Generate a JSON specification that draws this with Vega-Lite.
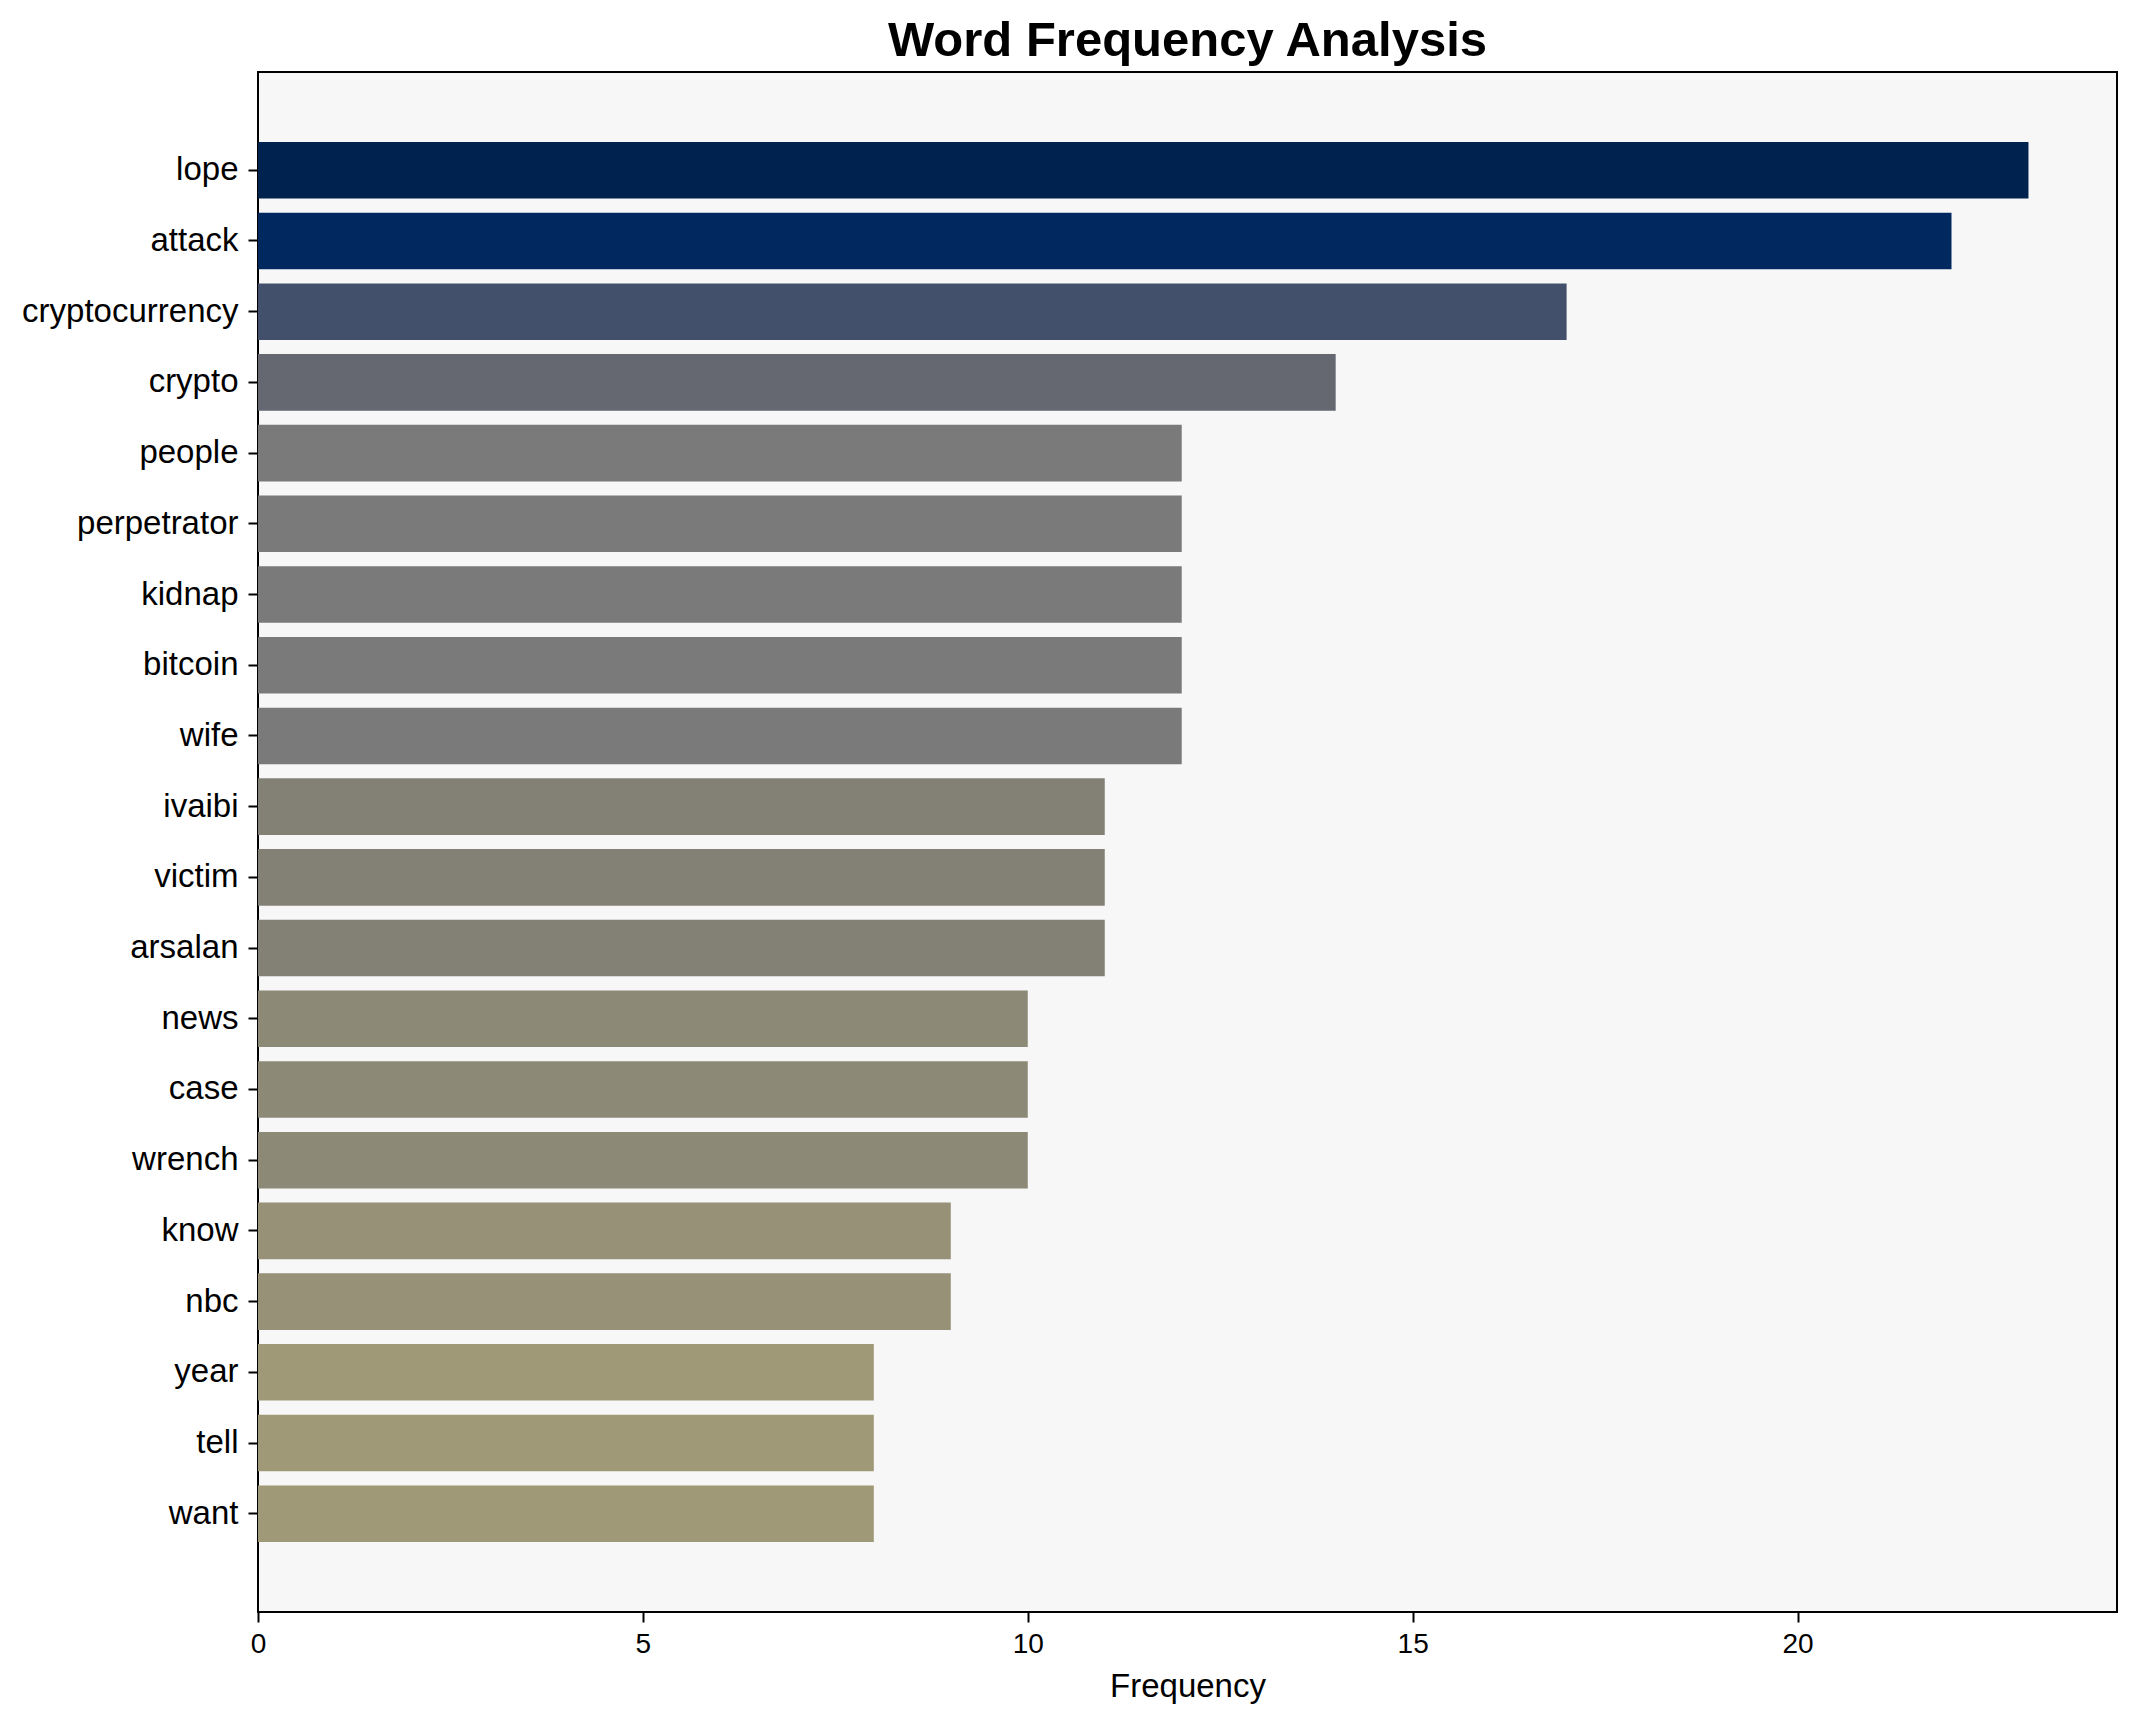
{
  "$schema": "https://vega.github.io/schema/vega-lite/v6.json",
  "width": 1859,
  "height": 1540,
  "autosize": {"type": "none"},
  "padding": {"left": 258, "top": 72, "right": 20, "bottom": 110},
  "background": "white",
  "title": {
    "text": "Word Frequency Analysis",
    "font": "Liberation Sans",
    "fontSize": 49,
    "fontWeight": "bold",
    "color": "#000000",
    "anchor": "middle",
    "frame": "group",
    "baseline": "bottom",
    "offset": 6,
    "dy": 49
  },
  "config": {
    "view": {"fill": "#f7f7f7", "stroke": "#000000", "strokeWidth": 2},
    "axis": {"grid": false, "domain": false, "tickColor": "#000000", "tickWidth": 2, "tickSize": 10, "labelColor": "#000000", "titleColor": "#000000", "labelFont": "Liberation Sans", "titleFont": "Liberation Sans"}
  },
  "data": {
    "values": [
      {"word": "lope", "frequency": 23},
      {"word": "attack", "frequency": 22},
      {"word": "cryptocurrency", "frequency": 17},
      {"word": "crypto", "frequency": 14},
      {"word": "people", "frequency": 12},
      {"word": "perpetrator", "frequency": 12},
      {"word": "kidnap", "frequency": 12},
      {"word": "bitcoin", "frequency": 12},
      {"word": "wife", "frequency": 12},
      {"word": "ivaibi", "frequency": 11},
      {"word": "victim", "frequency": 11},
      {"word": "arsalan", "frequency": 11},
      {"word": "news", "frequency": 10},
      {"word": "case", "frequency": 10},
      {"word": "wrench", "frequency": 10},
      {"word": "know", "frequency": 9},
      {"word": "nbc", "frequency": 9},
      {"word": "year", "frequency": 8},
      {"word": "tell", "frequency": 8},
      {"word": "want", "frequency": 8}
    ]
  },
  "mark": {"type": "bar"},
  "encoding": {
    "y": {
      "field": "word",
      "type": "nominal",
      "sort": null,
      "scale": {"paddingInner": 0.2, "paddingOuter": 0.99},
      "axis": {"title": null, "labelFontSize": 33, "labelPadding": 10, "labelLimit": 500}
    },
    "x": {
      "field": "frequency",
      "type": "quantitative",
      "scale": {"domain": [0, 24.15], "nice": false, "zero": true},
      "axis": {"title": "Frequency", "values": [0, 5, 10, 15, 20], "labelFlush": false, "labelFontSize": 28, "labelPadding": 8, "titleFontSize": 33, "titleFontWeight": "normal", "titlePadding": 12}
    },
    "color": {
      "field": "frequency",
      "type": "ordinal",
      "scale": {
        "domain": [23, 22, 17, 14, 12, 11, 10, 9, 8],
        "range": ["#00224e", "#02295f", "#43506c", "#656771", "#7a7a7a", "#838076", "#8c8a77", "#979177", "#a09977"]
      },
      "legend": null
    }
  }
}
